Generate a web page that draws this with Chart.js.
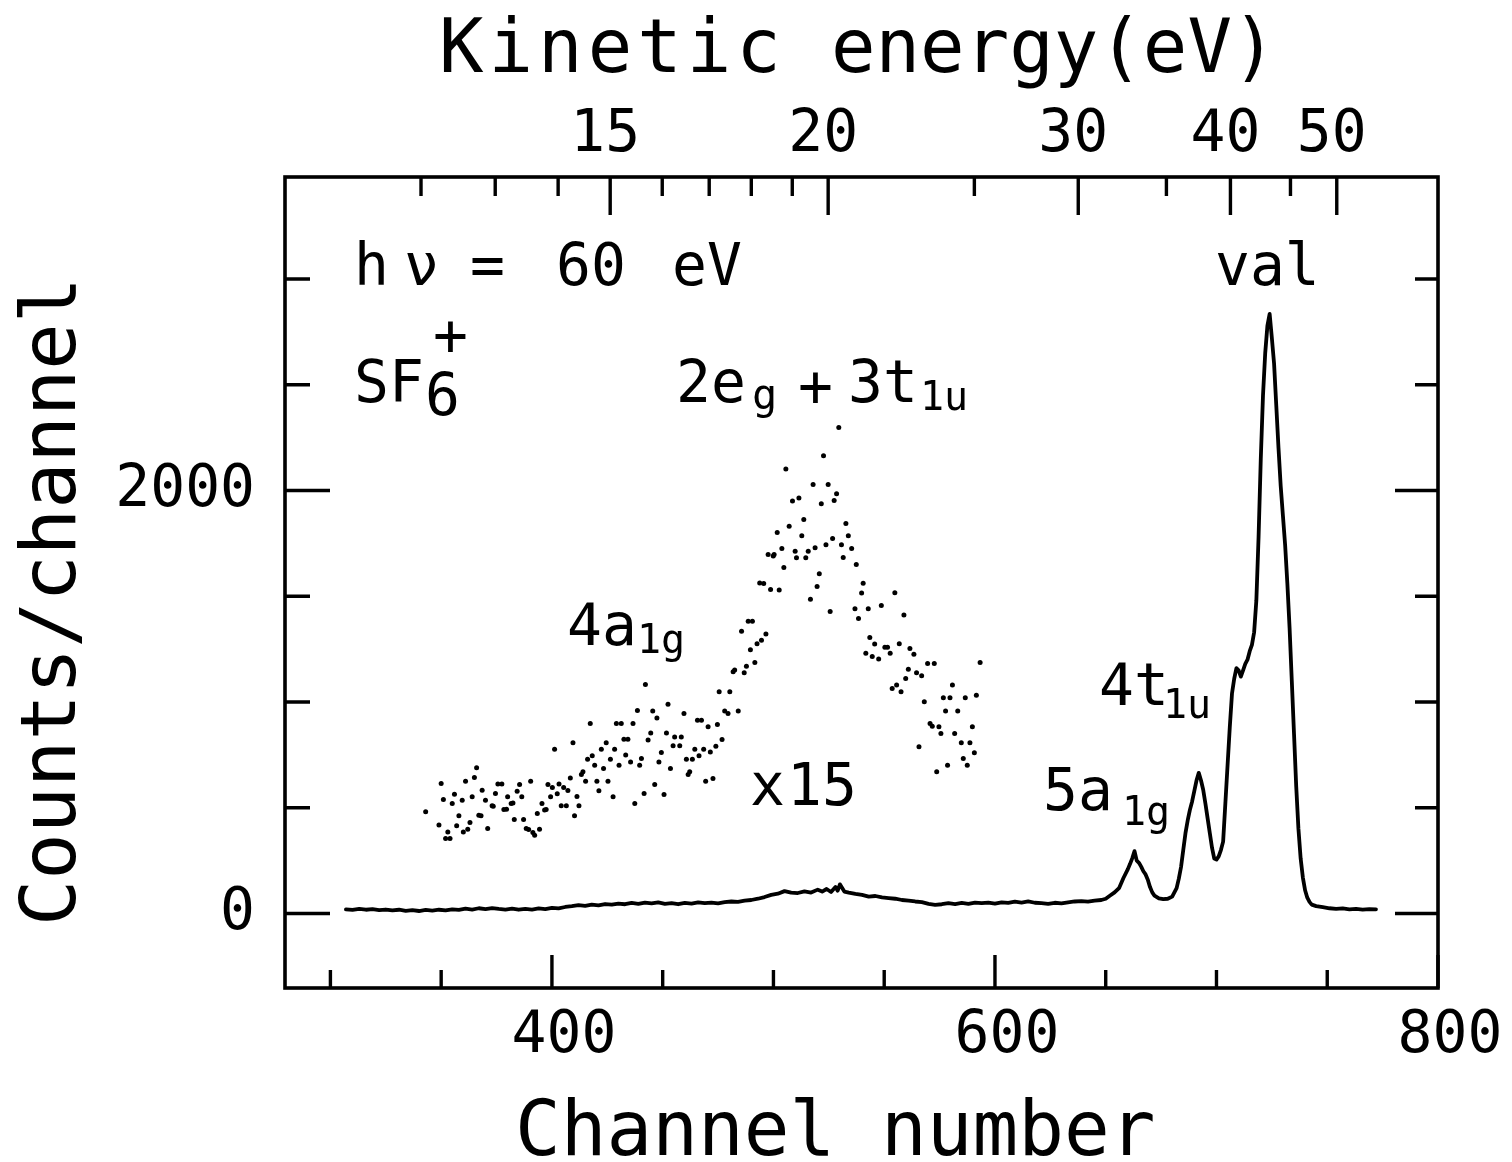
<!DOCTYPE html>
<html>
<head>
<meta charset="utf-8">
<script src="https://cdn.jsdelivr.net/npm/chart.js@4.4.1/dist/chart.umd.min.js"></script>
<style>
html,body{margin:0;padding:0;background:#fff;}
#wrap{width:1512px;height:1162px;position:relative;}
</style>
</head>
<body>
<div id="wrap"><canvas id="c" width="1512" height="1162"></canvas></div>
<script>
// ---------------- data ----------------
const channelRange = [279.5, 800];
const countRange = [-352, 3482];

// solid spectrum: channel number / counts per channel
const lineChannels = [
  307,310,313,316,319,322,325,328,331,334,
  337,340,343,346,349,352,355,358,361,364,
  367,370,373,376,379,382,385,388,391,394,
  397,400,403,406,409,412,415,418,421,424,
  427,430,433,436,439,442,445,448,451,454,
  457,460,463,466,469,472,475,478,481,484,
  487,490,493,496,499,502,505,508,511,514,
  517,520,522,524,526,528,529,530,532,534,
  537,540,543,546,549,552,555,558,561,564,
  567,570,573,576,579,582,585,588,591,594,
  597,600,603,606,609,612,615,618,621,624,
  627,630,633,636,639,642,645,648,650,652,
  654,656,658,660,661,662,663,664,665,666,
  667,668,669,670,671,672,674,676,678,680,
  682,683,684,685,686,687,688,689,690,691,
  692,693,694,695,696,697,698,699,700,701,
  702,703,704,705,706,707,708,709,710,711,
  712,713,714,715,716,717,718,719,720,721,
  722,723,724,725,726,727,728,729,730,731,
  732,733,734,735,736,737,738,739,740,741,
  742,743,745,748,751,754,757,760,763,766,
  769,772
];
const lineCounts = [
  20,17,22,18,21,16,19,15,18,13,
  16,12,17,14,18,15,20,17,23,19,
  25,21,26,22,19,23,18,22,19,24,
  21,27,24,31,35,40,36,42,39,45,
  42,47,44,50,46,52,48,53,46,49,
  44,50,47,53,49,52,48,54,57,55,
  61,64,70,78,88,94,106,99,97,105,
  99,113,104,116,102,126,108,138,104,99,
  93,88,80,83,76,73,70,64,61,57,
  54,46,41,44,49,45,50,46,52,49,
  52,47,53,50,56,52,57,51,49,46,
  51,48,53,57,59,56,61,64,70,85,
  100,120,168,210,235,262,295,250,240,222,
  200,185,160,125,100,85,72,68,70,80,
  120,165,220,300,380,440,490,530,580,630,
  665,630,585,520,450,380,310,260,255,270,
  300,340,520,700,880,1040,1110,1160,1150,1120,
  1150,1180,1200,1240,1270,1330,1480,1780,2150,2450,
  2650,2780,2835,2720,2600,2400,2200,2020,1880,1740,
  1560,1350,1100,850,600,400,260,170,110,75,
  55,42,35,30,25,22,24,20,22,19,
  21,20
];

// dotted spectrum, magnified x15 (values as plotted)
const dotChannels = [
  343,349,350,351,352,353,354,355,356,357,
  358,359.5,360,361,362,363,364,365,366,367,
  368,368.5,370,371,373,373.5,374.5,375.6,377.4,378.3,
  379.5,380,381.6,382.4,383,384.3,385.4,386.4,387.2,388.4,
  389.5,390.4,391.4,392.2,393.4,394.4,395.5,396.7,397.4,398.2,
  399.4,400.2,401.2,402.4,403.2,404.2,405.3,406.5,407.2,408.3,
  409.5,410.2,411.3,412.2,413.3,414,415.2,416.1,417.3,418.2,
  419.3,420.3,421.2,422.3,423.3,424.5,425.3,426.4,427.6,428.3,
  429.1,430.3,431.3,432.5,433.3,434.3,435.5,436.6,437.4,438.6,
  439.6,440.4,441.6,442.2,443.4,444.6,445.5,446.4,447.4,448.3,
  449.4,450.6,451.7,452.4,453.5,454.7,455.4,457.7,458.4,459.6,
  460.7,461.5,462.2,463.4,464.5,465.7,466.4,467.5,468.5,469.4,
  470.5,471.5,472.7,474,474.7,475.5,476.8,478,479.5,480.3,
  481.8,482.5,484.1,485.6,486.8,487.8,488.6,489.6,490.5,491.6,
  492.6,493.8,494.6,495.6,496.6,497.6,498.7,499.9,500.3,501.7,
  502.6,503.8,504.7,505.6,507.1,508.6,509.8,510.4,511.5,512.8,
  513.7,514.6,515.7,516.7,517.9,518.8,519.7,520.7,521.6,522.6,
  523.7,524.7,525.6,526.7,527.4,528.5,529.5,530.7,531.5,532.7,
  533.8,535.3,536.8,537.4,538.4,539.8,540.5,541.7,542.8,543.5,
  544.6,545.7,547.5,548.7,550.3,551.5,552.7,553.6,554.8,555.6,
  556.8,557.6,558.9,559.7,560.9,561.6,563.4,564.6,565.7,566.9,
  568.1,569.6,570.7,571.7,572.6,573.7,574.7,575.6,576.7,577.7,
  578.6,579.7,580.8,581.8,583.2,584.8,585.7,586.6,587.5,588.7,
  589.8,590.7,591.6,593.3
];
const dotCounts = [
  481,418,615,539,355,386,355,520,564,415,
  462,536,386,626,399,430,552,643,689,465,
  462,583,536,402,509,507,567,613,613,492,
  493,552,520,523,445,578,610,552,445,402,
  397,626,383,370,473,399,520,489,492,610,
  552,596,777,566,612,509,596,509,582,641,
  808,462,553,509,657,670,626,730,898,746,
  701,626,580,777,686,808,626,730,552,777,
  898,701,898,824,749,824,717,898,520,960,
  701,733,567,1083,820,854,957,610,925,717,
  761,563,854,990,686,793,835,793,835,946,
  730,657,670,730,777,914,746,914,777,626,
  883,764,638,791,894,1048,823,957,946,1048,
  1143,1151,958,1335,1138,1169,1382,1247,1382,1187,
  1275,1563,1292,1560,1321,1697,1532,1690,1697,1801,
  1529,1726,1636,2101,1831,1950,1713,1682,1965,1786,
  1863,1682,1713,1486,2028,1729,1546,1606,1937,2164,
  1743,2028,1428,1773,1953,1984,2298,1743,1683,1844,
  1786,1726,1441,1650,1395,1515,1562,1231,1441,1305,
  1215,1274,1203,1456,1259,1259,1231,1064,1516,1080,
  1275,1048,1411,1111,1155,1253,1226,1138,788,1124,
  1001,1182,898,886,1182,670,883,851,1020,958,
  701,1020,1080,851,958,807,733,1020,701,807,
  883,760,1032,1187
];

// axes
const channelTickValues = [300,350,400,450,500,550,600,650,700,750,800];
const channelLabelValues = [400,600,800];
const countTickValues = [0,500,1000,1500,2000,2500,3000];
const countLabelValues = [0,2000];
const energyTickValues   = [12,13,14,15,16,17,18,19,20,25,30,35,40,45,50];
const energyTickChannels = [340.9,374.4,402.8,426.3,449.8,471.0,490.0,508.5,524.7,590.7,637.6,677.4,706.3,733.4,754.3];
const energyLabelValues  = [15,20,30,40,50];

// ---------------- layout / style ----------------
const FONT = "'DejaVu Sans Mono', monospace";
const annotations = [
  // [text, x, baseline y, size, letterSpacing, rotate]
  ['Kinetic', 439, 72, 74, 5, 0],
  ['energy(eV)', 831, 72, 74, 0, 0],
  ['Channel number', 515, 1155, 76, 0, 0],
  ['Counts/channel', 75, 926, 77, 0, 1],
  ['h', 354, 285, 58, 0, 0],
  ['\u03bd', 404, 285, 58, 0, 0],
  ['=', 470, 285, 58, 0, 0],
  ['60', 556, 285, 58, 0, 0],
  ['eV', 672, 285, 58, 0, 0],
  ['SF', 354, 402, 58, 0, 0],
  ['6', 425, 415, 58, 0, 0],
  ['+', 433, 355, 58, 0, 0],
  ['2e', 676, 402, 58, 0, 0],
  ['g', 752, 409, 42, 0, 0],
  ['+', 798, 406, 58, 0, 0],
  ['3t', 848, 402, 58, 0, 0],
  ['1u', 920, 410, 40, 0, 0],
  ['4a', 567, 645, 58, 0, 0],
  ['1g', 637, 653, 40, 0, 0],
  ['x', 750, 805, 58, 0, 0],
  ['15', 787, 805, 58, 0, 0],
  ['5a', 1043, 810, 58, 0, 0],
  ['1g', 1122, 825, 40, 0, 0],
  ['4t', 1099, 705, 58, 0, 0],
  ['1u', 1163, 718, 40, 0, 0],
  ['val', 1215, 285, 58, 0, 0]
];

const framePlugin = {
  id: 'frame',
  afterDraw(chart) {
    const {ctx, chartArea: a, scales} = chart;
    const sx = scales.x, sy = scales.y;
    ctx.save();
    ctx.strokeStyle = '#000';
    ctx.lineWidth = 3.6;
    ctx.lineCap = 'square';
    ctx.strokeRect(a.left, a.top, a.right - a.left, a.bottom - a.top);
    ctx.lineCap = 'butt';
    ctx.lineWidth = 3.4;
    ctx.beginPath();
    channelTickValues.forEach(v => {
      const px = sx.getPixelForValue(v);
      const len = channelLabelValues.includes(v) ? 33 : 18;
      ctx.moveTo(px, a.bottom); ctx.lineTo(px, a.bottom - len);
    });
    energyTickValues.forEach((e, i) => {
      const px = sx.getPixelForValue(energyTickChannels[i]);
      const len = energyLabelValues.includes(e) ? 38 : 19;
      ctx.moveTo(px, a.top); ctx.lineTo(px, a.top + len);
    });
    countTickValues.forEach(v => {
      const py = sy.getPixelForValue(v);
      const maj = countLabelValues.includes(v);
      ctx.moveTo(a.left, py); ctx.lineTo(a.left + (maj ? 45 : 25), py);
      ctx.moveTo(a.right, py); ctx.lineTo(a.right - (maj ? 43 : 23), py);
    });
    ctx.stroke();

    ctx.fillStyle = '#000';
    ctx.textBaseline = 'alphabetic';
    ctx.textAlign = 'left';
    annotations.forEach(([t, x, y, size, ls, rot]) => {
      ctx.save();
      ctx.font = size + 'px ' + FONT;
      try { ctx.letterSpacing = ls + 'px'; } catch (e) {}
      ctx.translate(x, y);
      if (rot) ctx.rotate(-Math.PI / 2);
      ctx.fillText(t, 0, 0);
      ctx.restore();
    });
    ctx.restore();
  }
};

Chart.defaults.color = '#000';

new Chart(document.getElementById('c'), {
  type: 'scatter',
  data: {
    datasets: [
      {
        label: 'spectrum',
        data: lineChannels.map((c, i) => ({x: c, y: lineCounts[i]})),
        showLine: true,
        borderColor: '#000',
        borderWidth: 3.8,
        pointRadius: 0,
        tension: 0,
        borderJoinStyle: 'round',
        borderCapStyle: 'round'
      },
      {
        label: 'x15',
        data: dotChannels.map((c, i) => ({x: c, y: dotCounts[i]})),
        showLine: false,
        backgroundColor: '#000',
        borderWidth: 0,
        pointRadius: 2.5
      }
    ]
  },
  options: {
    responsive: false,
    animation: false,
    devicePixelRatio: 1,
    layout: {padding: 0},
    plugins: {legend: {display: false}, tooltip: {enabled: false}},
    scales: {
      x: {
        type: 'linear', position: 'bottom',
        min: channelRange[0], max: channelRange[1],
        grid: {display: false, drawTicks: false},
        border: {display: false},
        afterBuildTicks: s => { s.ticks = channelLabelValues.map(v => ({value: v})); },
        afterFit: s => { s.height = 174; },
        ticks: {autoSkip: false, maxRotation: 0, padding: 14, labelOffset: 12,
                font: {family: FONT, size: 58}, callback: v => String(v)}
      },
      x2: {
        type: 'linear', position: 'top',
        min: channelRange[0], max: channelRange[1],
        grid: {display: false, drawTicks: false},
        border: {display: false},
        afterBuildTicks: s => {
          s.ticks = energyLabelValues.map(e => ({value: energyTickChannels[energyTickValues.indexOf(e)]}));
        },
        afterFit: s => { s.height = 177; },
        ticks: {autoSkip: false, maxRotation: 0, padding: 6, labelOffset: -5,
                font: {family: FONT, size: 58},
                callback: (v, i) => String(energyLabelValues[i])}
      },
      y: {
        type: 'linear', position: 'left',
        min: countRange[0], max: countRange[1],
        grid: {display: false, drawTicks: false},
        border: {display: false},
        afterBuildTicks: s => { s.ticks = countLabelValues.map(v => ({value: v})); },
        afterFit: s => { s.width = 285; },
        ticks: {autoSkip: false, padding: 30, font: {family: FONT, size: 58},
                callback: v => String(v)}
      },
      y2: {
        type: 'linear', position: 'right',
        min: countRange[0], max: countRange[1],
        grid: {display: false, drawTicks: false},
        border: {display: false},
        afterBuildTicks: s => { s.ticks = []; },
        afterFit: s => { s.width = 74; },
        ticks: {display: false}
      }
    }
  },
  plugins: [framePlugin]
});
</script>
</body>
</html>
